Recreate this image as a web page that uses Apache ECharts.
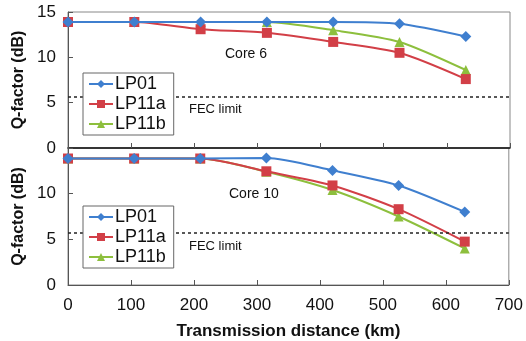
<!DOCTYPE html>
<html><head><meta charset="utf-8">
<script src="https://cdn.jsdelivr.net/npm/echarts@6/dist/echarts.min.js"></script>
<style>html,body{margin:0;padding:0;background:#fff}#c{width:526px;height:341px}</style>
</head><body><div id="c"></div>
<script>
var distances = [0, 105, 210, 315, 420, 525, 630];
var seriesNames = ['LP01', 'LP11a', 'LP11b'];
var core6_LP01 = [13.9, 13.9, 13.9, 13.9, 13.9, 13.7, 12.3];
var core6_LP11a = [13.9, 13.9, 13.1, 12.7, 11.7, 10.5, 7.6];
var core6_LP11b = [13.9, 13.9, 13.9, 13.9, 13.0, 11.7, 8.6];
var core10_LP01 = [13.85, 13.85, 13.85, 13.9, 12.55, 10.9, 8.0];
var core10_LP11a = [13.85, 13.85, 13.85, 12.45, 10.9, 8.3, 4.75];
var core10_LP11b = [13.85, 13.85, 13.85, 12.4, 10.4, 7.5, 4.0];
var fecLimit = 5.7;
var xTicks = [0, 100, 200, 300, 400, 500, 600, 700];
var yTicks = [0, 5, 10, 15];

var colors = ['#3f7fcf', '#d23f47', '#8dbf3d'];
var symbols = ['diamond', 'rect', 'triangle'];
var font = 'Liberation Sans, Arial, sans-serif';

function pairs(arr) { return distances.map(function (d, i) { return [d, arr[i]]; }); }

function mk(name, idx, data, grid) {
  var s = {
    name: name, type: 'line', xAxisIndex: grid, yAxisIndex: grid,
    data: pairs(data), smooth: 0.25, symbol: symbols[idx],
    symbolSize: idx === 0 ? 11 : 10,
    lineStyle: { color: colors[idx], width: 2 },
    itemStyle: { color: colors[idx] }, z: 5 - idx
  };
  if (idx === 0) {
    s.markLine = {
      silent: true, symbol: 'none', label: { show: false },
      lineStyle: { type: [3, 3], color: '#222', width: 1.5 },
      data: [{ yAxis: fecLimit }]
    };
  }
  return s;
}

function yAxis(grid) {
  return {
    type: 'value', gridIndex: grid, min: 0, max: 15, interval: 5,
    name: 'Q-factor (dB)', nameLocation: 'middle', nameGap: 32,
    nameTextStyle: { fontFamily: font, fontSize: 16, fontWeight: 'bold', color: '#111' },
    axisLine: { show: true, lineStyle: { color: '#555' } },
    axisTick: { show: true, inside: true, length: 5, lineStyle: { color: '#555' } },
    axisLabel: { fontFamily: font, fontSize: 17, color: '#111', margin: 12,
      showMaxLabel: grid === 0, showMinLabel: true },
    splitLine: { show: false }
  };
}

function xAxis(grid) {
  return {
    type: 'value', gridIndex: grid, min: 0, max: 700, interval: 100,
    name: grid === 1 ? 'Transmission distance (km)' : '',
    nameLocation: 'middle', nameGap: 38,
    nameTextStyle: { fontFamily: font, fontSize: 17, fontWeight: 'bold', color: '#111' },
    axisLine: { show: true, onZero: false, lineStyle: { color: grid === 0 ? '#111' : '#555', width: grid === 0 ? 1.5 : 1 } },
    axisTick: { show: true, inside: true, length: 5, lineStyle: { color: '#555' } },
    axisLabel: { show: grid === 1, fontFamily: font, fontSize: 17, color: '#111', margin: 12 },
    splitLine: { show: false }
  };
}

function legend(top) {
  return {
    data: seriesNames, orient: 'vertical', left: 83, top: top, z: 20,
    itemWidth: 24, itemHeight: 10, itemGap: 2,
    padding: [2, 8, 2, 5],
    borderColor: '#666', borderWidth: 1, backgroundColor: '#fff',
    textStyle: { fontFamily: font, fontSize: 18, lineHeight: 18, color: '#111', padding: [0, 0, 0, -3] },
    selectedMode: false
  };
}

var chart = echarts.init(document.getElementById('c'), null, { renderer: 'canvas' });
chart.setOption({
  animation: false,
  backgroundColor: '#fff',
  grid: [
    { left: 68, right: 16, top: 12, height: 136, show: true, borderColor: '#888', borderWidth: 1 },
    { left: 68, right: 16, top: 148, height: 137, show: true, borderColor: '#888', borderWidth: 1 }
  ],
  xAxis: [xAxis(0), xAxis(1)],
  yAxis: [yAxis(0), yAxis(1)],
  legend: [legend(73), legend(206)],
  graphic: [
    { type: 'text', left: 225, top: 47, style: { text: 'Core 6', font: '14px ' + font, fill: '#111' } },
    { type: 'text', left: 229, top: 187, style: { text: 'Core 10', font: '14px ' + font, fill: '#111' } },
    { type: 'text', left: 189, top: 103, style: { text: 'FEC limit', font: '13px ' + font, fill: '#111' } },
    { type: 'text', left: 189, top: 240, style: { text: 'FEC limit', font: '13px ' + font, fill: '#111' } }
  ],
  series: [
    mk('LP01', 0, core6_LP01, 0), mk('LP11a', 1, core6_LP11a, 0), mk('LP11b', 2, core6_LP11b, 0),
    mk('LP01', 0, core10_LP01, 1), mk('LP11a', 1, core10_LP11a, 1), mk('LP11b', 2, core10_LP11b, 1)
  ]
});
</script></body></html>
